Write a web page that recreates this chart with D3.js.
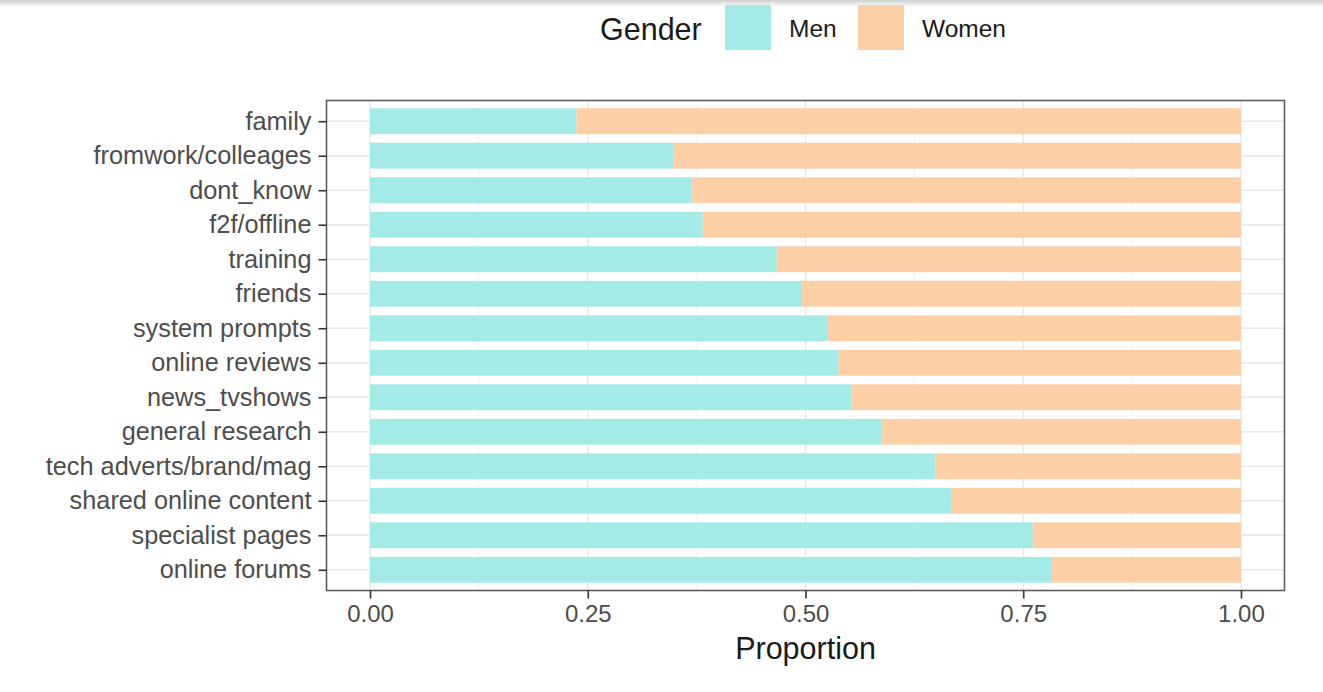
<!DOCTYPE html>
<html>
<head>
<meta charset="utf-8">
<script src="https://cdn.jsdelivr.net/npm/d3@7"></script>
<style>
  html, body { margin: 0; padding: 0; background: #fff; }
  svg { display: block; font-family: "Liberation Sans", Arial, Helvetica, sans-serif; }
</style>
</head>
<body>
<svg id="chart" width="1323" height="692"></svg>
<script>
const categories = ["family", "fromwork/colleages", "dont_know", "f2f/offline", "training", "friends",
  "system prompts", "online reviews", "news_tvshows", "general research", "tech adverts/brand/mag",
  "shared online content", "specialist pages", "online forums"];
const menShare = [0.237, 0.348, 0.370, 0.382, 0.467, 0.496, 0.526, 0.538, 0.553, 0.588, 0.649, 0.668, 0.761, 0.783];
const genders = ["Men", "Women"];
const genderColors = ["#a4eae7", "#fdcfa7"];
const xTicks = [0, 0.25, 0.5, 0.75, 1];
const xMinor = [0.125, 0.375, 0.625, 0.875];

const svg = d3.select("#chart");
const W = 1323, H = 692;
const panel = { left: 326.5, right: 1284.5, top: 100.5, bottom: 590.5 };

// top shadow
const defs = svg.append("defs");
const grad = defs.append("linearGradient").attr("id", "shadow").attr("x1", 0).attr("x2", 0).attr("y1", 0).attr("y2", 1);
grad.append("stop").attr("offset", "0%").attr("stop-color", "#d0d0d0");
grad.append("stop").attr("offset", "100%").attr("stop-color", "#ffffff");
svg.append("rect").attr("x", 0).attr("y", 0).attr("width", W).attr("height", 7).attr("fill", "url(#shadow)");

const x = d3.scaleLinear().domain([-0.05, 1.05]).range([panel.left, panel.right]);
const y = d3.scalePoint().domain(categories).range([panel.top, panel.bottom]).padding(0.6);
const step = y.step();
const barH = step * 0.75;

const color = d3.scaleOrdinal().domain(genders).range(genderColors);

// grid
const g = svg.append("g");
g.selectAll("line.minor").data(xMinor).join("line")
  .attr("x1", d => x(d)).attr("x2", d => x(d))
  .attr("y1", panel.top).attr("y2", panel.bottom)
  .attr("stroke", "#f3f3f3").attr("stroke-width", 0.8);
g.selectAll("line.majorx").data(xTicks).join("line")
  .attr("x1", d => x(d)).attr("x2", d => x(d))
  .attr("y1", panel.top).attr("y2", panel.bottom)
  .attr("stroke", "#e8e8e8").attr("stroke-width", 1.4);
g.selectAll("line.majory").data(categories).join("line")
  .attr("x1", panel.left).attr("x2", panel.right)
  .attr("y1", d => y(d)).attr("y2", d => y(d))
  .attr("stroke", "#e8e8e8").attr("stroke-width", 1.4);

// bars
const stackData = categories.map((c, i) => ({ cat: c, Men: menShare[i], Women: 1 - menShare[i] }));
const series = d3.stack().keys(genders)(stackData);
svg.append("g").selectAll("g").data(series).join("g")
  .attr("fill", d => color(d.key))
  .selectAll("rect").data(d => d).join("rect")
  .attr("x", d => x(d[0]))
  .attr("width", d => x(d[1]) - x(d[0]))
  .attr("y", d => y(d.data.cat) - barH / 2)
  .attr("height", barH);

// panel border
svg.append("rect")
  .attr("x", panel.left).attr("y", panel.top)
  .attr("width", panel.right - panel.left).attr("height", panel.bottom - panel.top)
  .attr("fill", "none").attr("stroke", "#5e5e5e").attr("stroke-width", 1.6);

// axes
const yAxis = d3.axisLeft(y).tickSize(8).tickPadding(7);
const ya = svg.append("g").attr("transform", `translate(${panel.left},0)`).call(yAxis);
ya.select(".domain").remove();
ya.selectAll(".tick line").attr("stroke", "#333").attr("stroke-width", 1.6);
ya.selectAll(".tick text").attr("fill", "#4d4d4d").style("font-size", "25.3px")
  .style("font-family", "'Liberation Sans', Arial, sans-serif");

const xAxis = d3.axisBottom(x).tickValues(xTicks).tickFormat(d3.format(".2f")).tickSize(8).tickPadding(6);
const xa = svg.append("g").attr("transform", `translate(0,${panel.bottom})`).call(xAxis);
xa.select(".domain").remove();
xa.selectAll(".tick line").attr("stroke", "#333").attr("stroke-width", 1.6);
xa.selectAll(".tick text").attr("fill", "#4d4d4d").style("font-size", "24px")
  .style("font-family", "'Liberation Sans', Arial, sans-serif");

// x title
svg.append("text").attr("x", x(0.5)).attr("y", 659).attr("text-anchor", "middle")
  .attr("fill", "#1a1a1a").style("font-size", "30.5px").text("Proportion");

// legend
const leg = svg.append("g");
leg.append("text").attr("x", 600).attr("y", 40).attr("fill", "#1a1a1a").style("font-size", "30.5px").text("Gender");
const keyX = [725, 858];
genders.forEach((gname, i) => {
  leg.append("rect").attr("x", keyX[i]).attr("y", 5).attr("width", 46).attr("height", 45).attr("fill", color(gname));
  leg.append("text").attr("x", keyX[i] + 64).attr("y", 37).attr("fill", "#1a1a1a").style("font-size", "24.5px").text(gname);
});
</script>
</body>
</html>
